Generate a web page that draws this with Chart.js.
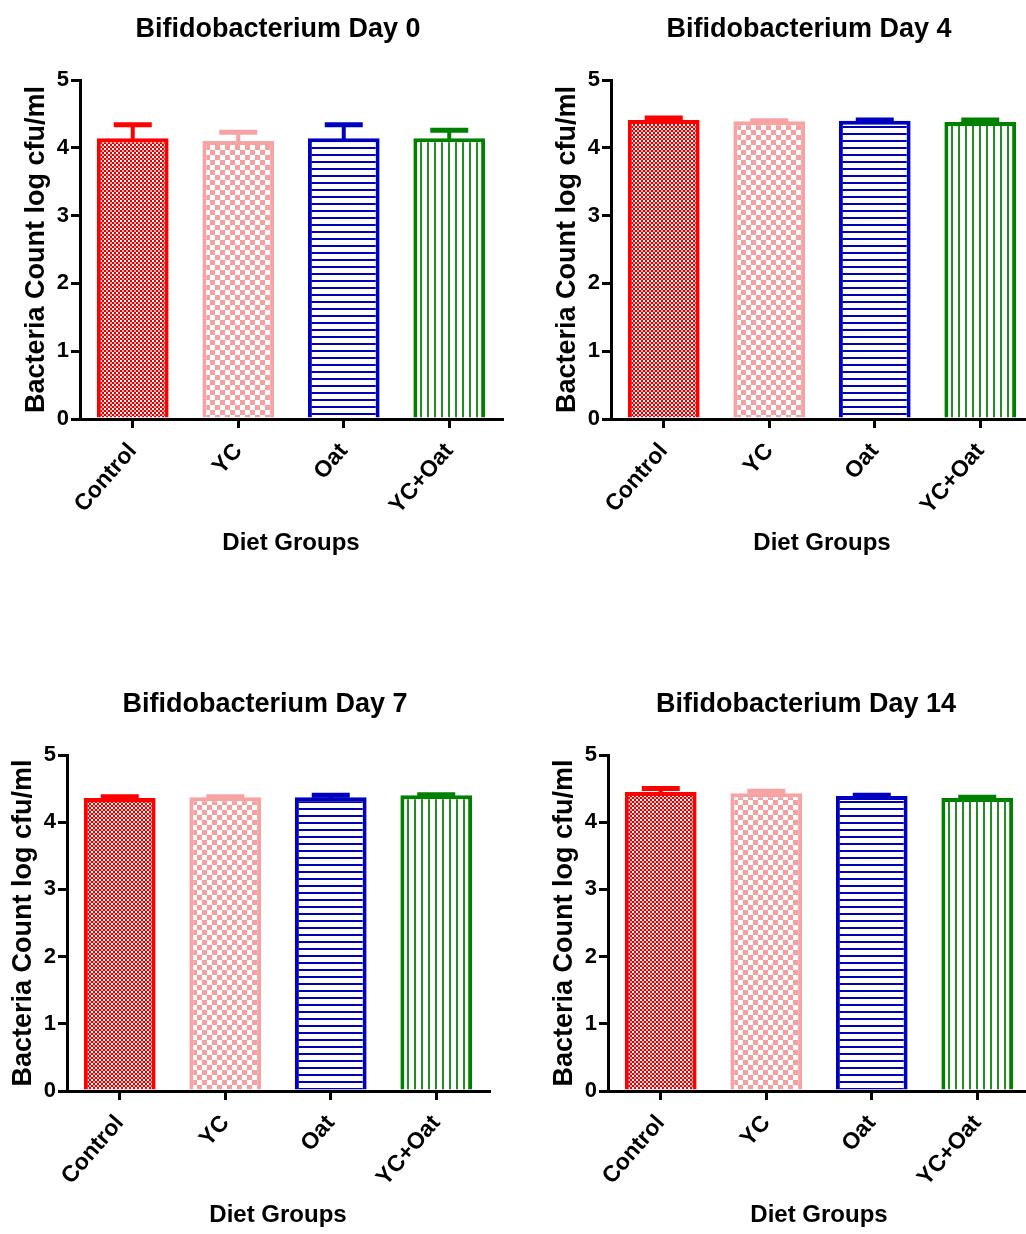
<!DOCTYPE html>
<html>
<head>
<meta charset="utf-8">
<script src="https://cdn.jsdelivr.net/npm/chart.js@4.4.1/dist/chart.umd.min.js"></script>
<style>
  html, body { margin: 0; padding: 0; background: #fff; }
  #page { position: relative; width: 1026px; height: 1234px; overflow: hidden; }
  #page canvas { position: absolute; }
</style>
</head>
<body>
<div id="page">
  <canvas id="day0" width="512" height="580" style="left:0px;top:0px"></canvas>
  <canvas id="day4" width="512" height="580" style="left:531px;top:0px"></canvas>
  <canvas id="day7" width="512" height="577" style="left:-13px;top:675px"></canvas>
  <canvas id="day14" width="512" height="577" style="left:528px;top:675px"></canvas>
</div>
<script>
// Data
const groups = ['Control', 'YC', 'Oat', 'YC+Oat'];
const panelTitles = ['Bifidobacterium Day 0', 'Bifidobacterium Day 4', 'Bifidobacterium Day 7', 'Bifidobacterium Day 14'];

const meanDay0 = [4.14, 4.10, 4.14, 4.14];
const errDay0 = [0.20, 0.13, 0.20, 0.12];
const meanDay4 = [4.41, 4.39, 4.40, 4.38];
const errDay4 = [0.03, 0.01, 0.01, 0.03];
const meanDay7 = [4.36, 4.37, 4.37, 4.40];
const errDay7 = [0.02, 0.01, 0.03, 0.01];
const meanDay14 = [4.45, 4.43, 4.39, 4.36];
const errDay14 = [0.05, 0.03, 0.01, 0.01];

const yMin = 0;
const yMax = 5;
const yStep = 1;

const borderColors = ['#ff0000', '#f7a3a3', '#0000c0', '#008000'];

const fontFamily = '"Liberation Sans", Arial, sans-serif';

// Fill patterns
function makePattern(w, h, draw) {
    const c = document.createElement('canvas');
    c.width = w;
    c.height = h;
    const g = c.getContext('2d');
    g.fillStyle = '#fff';
    g.fillRect(0, 0, w, h);
    draw(g);
    return document.createElement('canvas').getContext('2d').createPattern(c, 'repeat');
}

const patterns = [
    // fine red checker
    makePattern(4, 4, g => {
        g.fillStyle = '#e00000';
        g.fillRect(0, 0, 4, 4);
        g.fillStyle = '#ffffff';
        g.fillRect(0, 0, 2, 2);
        g.fillStyle = '#f4b0b0';
        g.fillRect(2, 2, 2, 2);
    }),
    // coarse pink checker
    makePattern(10, 10, g => {
        g.fillStyle = '#f5a0a0';
        g.fillRect(0, 0, 5, 5);
        g.fillRect(5, 5, 5, 5);
    }),
    // horizontal blue lines
    makePattern(4, 7, g => {
        g.fillStyle = '#0000b4';
        g.fillRect(0, 0, 4, 2);
    }),
    // vertical green lines
    makePattern(7, 4, g => {
        g.fillStyle = '#1f8f1f';
        g.fillRect(0, 0, 2, 4);
    })
];

// Upward SEM bars
const errorBars = {
    id: 'errorBars',
    afterDatasetsDraw(chart) {
        const ctx = chart.ctx;
        const yScale = chart.scales.y;
        const ds = chart.data.datasets[0];
        const meta = chart.getDatasetMeta(0);
        meta.data.forEach((bar, i) => {
            const top = yScale.getPixelForValue(ds.data[i] + ds.errors[i]);
            ctx.save();
            ctx.strokeStyle = borderColors[i];
            ctx.lineCap = 'butt';
            ctx.lineWidth = 4;
            ctx.beginPath();
            ctx.moveTo(bar.x, bar.y + 2);
            ctx.lineTo(bar.x, top);
            ctx.stroke();
            ctx.lineWidth = 5;
            ctx.beginPath();
            ctx.moveTo(bar.x - 19, top);
            ctx.lineTo(bar.x + 19, top);
            ctx.stroke();
            ctx.restore();
        });
    }
};

// Panel heading, sits a bit left of the plot centre like the original
const panelTitle = {
    id: 'panelTitle',
    afterDraw(chart, args, opts) {
        const ctx = chart.ctx;
        const area = chart.chartArea;
        ctx.save();
        ctx.font = 'bold 27px ' + fontFamily;
        ctx.fillStyle = '#000';
        ctx.textAlign = 'center';
        ctx.textBaseline = 'middle';
        ctx.fillText(opts.text, (area.left + area.right) / 2 - 13, 30);
        ctx.restore();
    }
};

function makeChart(id, title, means, errs) {
    return new Chart(document.getElementById(id), {
        type: 'bar',
        data: {
            labels: groups,
            datasets: [{
                data: means,
                errors: errs,
                backgroundColor: patterns,
                borderColor: borderColors,
                borderWidth: 4,
                borderSkipped: 'start',
                barPercentage: 0.68,
                categoryPercentage: 1
            }]
        },
        options: {
            responsive: false,
            animation: false,
            events: [],
            layout: { padding: { top: 80, right: 10, left: 0, bottom: 0 } },
            plugins: {
                legend: { display: false },
                tooltip: { enabled: false },
                panelTitle: { text: title }
            },
            scales: {
                x: {
                    afterFit: scale => { scale.height = 161; },
                    grid: {
                        offset: false,
                        drawOnChartArea: false,
                        drawTicks: true,
                        tickLength: 9,
                        lineWidth: 3,
                        color: '#000'
                    },
                    border: { display: true, color: '#000', width: 3 },
                    ticks: {
                        autoSkip: false,
                        minRotation: 49,
                        maxRotation: 49,
                        padding: 10,
                        color: '#000',
                        font: { family: fontFamily, size: 23, weight: 'bold' }
                    },
                    title: {
                        display: true,
                        text: 'Diet Groups',
                        color: '#000',
                        font: { family: fontFamily, size: 24, weight: 'bold' },
                        padding: { top: 0, bottom: 22 }
                    }
                },
                y: {
                    min: yMin,
                    max: yMax,
                    afterFit: scale => { scale.width = 80; },
                    grid: {
                        drawOnChartArea: false,
                        drawTicks: true,
                        tickLength: 9,
                        lineWidth: 3,
                        color: '#000'
                    },
                    border: { display: true, color: '#000', width: 3 },
                    ticks: {
                        stepSize: yStep,
                        padding: 2,
                        color: '#000',
                        font: { family: fontFamily, size: 22, weight: 'bold' }
                    },
                    title: {
                        display: true,
                        text: 'Bacteria Count log cfu/ml',
                        color: '#000',
                        font: { family: fontFamily, size: 27, weight: 'bold' },
                        padding: { top: 20, bottom: 0 }
                    }
                }
            }
        },
        plugins: [errorBars, panelTitle]
    });
}

makeChart('day0', panelTitles[0], meanDay0, errDay0);
makeChart('day4', panelTitles[1], meanDay4, errDay4);
makeChart('day7', panelTitles[2], meanDay7, errDay7);
makeChart('day14', panelTitles[3], meanDay14, errDay14);
</script>
</body>
</html>
